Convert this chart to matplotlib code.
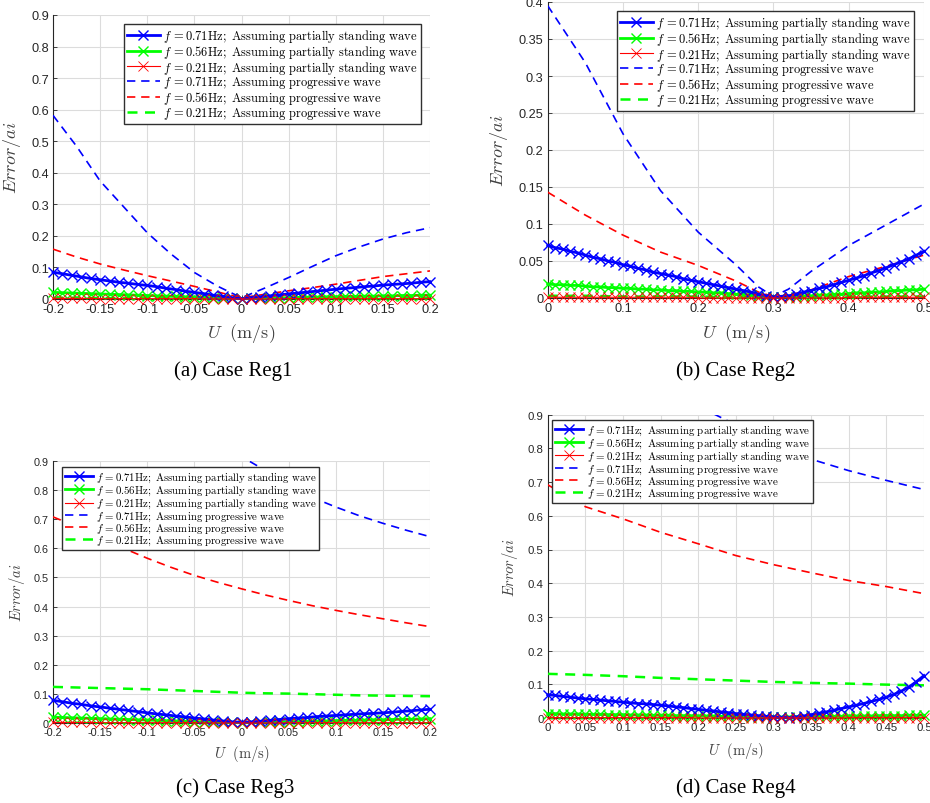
import matplotlib
matplotlib.use("Agg")
import matplotlib.pyplot as plt
import numpy as np

plt.rcParams["mathtext.fontset"] = "cm"
plt.rcParams["font.family"] = ["Liberation Sans", "DejaVu Sans"]

# ---------------- data ----------------
# marker grids (m/s)
u_ac = [round(-0.20 + 0.01 * i, 2) for i in range(41)]
u_bd = [round(0.00 + 0.01 * i, 2) for i in range(51)]
# dashed-curve grids
u_ac_dash = [-0.2, -0.175, -0.15, -0.125, -0.1, -0.075, -0.05, -0.025, 0.0,
             0.025, 0.05, 0.075, 0.1, 0.125, 0.15, 0.175, 0.2]
u_b_dash = [0.0, 0.05, 0.1, 0.15, 0.2, 0.25, 0.28, 0.3, 0.32, 0.35, 0.4, 0.45, 0.5]
u_d_dash = [0.0, 0.05, 0.1, 0.15, 0.2, 0.25, 0.3, 0.35, 0.4, 0.45, 0.5]

# Case Reg1
reg1_std_071 = [0.085, 0.080, 0.075, 0.070, 0.065, 0.061, 0.057, 0.053, 0.050, 0.046,
                0.043, 0.039, 0.034, 0.030, 0.025, 0.021, 0.017, 0.012, 0.008, 0.004,
                0.001, 0.004, 0.007, 0.010, 0.013, 0.016, 0.019, 0.022, 0.025, 0.028,
                0.031, 0.034, 0.036, 0.039, 0.041, 0.044, 0.046, 0.048, 0.050, 0.053,
                0.055]
reg1_std_056 = [0.021, 0.020, 0.019, 0.018, 0.017, 0.016, 0.015, 0.014, 0.013, 0.012,
                0.011, 0.010, 0.009, 0.008, 0.007, 0.006, 0.005, 0.004, 0.003, 0.002,
                0.001, 0.002, 0.002, 0.003, 0.004, 0.004, 0.005, 0.006, 0.006, 0.007,
                0.007, 0.008, 0.008, 0.009, 0.009, 0.010, 0.010, 0.011, 0.011, 0.012,
                0.012]
reg1_std_021 = [0.002, 0.002, 0.002, 0.002, 0.002, 0.001, 0.001, 0.001, 0.001, 0.001,
                0.001, 0.001, 0.001, 0.001, 0.001, 0.001, 0.000, 0.000, 0.000, 0.000,
                0.000, 0.000, 0.000, 0.000, 0.000, 0.001, 0.001, 0.001, 0.001, 0.001,
                0.001, 0.001, 0.001, 0.001, 0.001, 0.001, 0.001, 0.001, 0.001, 0.001,
                0.001]
reg1_prog_071 = [0.582, 0.484, 0.374, 0.292, 0.210, 0.143, 0.084, 0.040, 0.004,
                 0.035, 0.068, 0.103, 0.137, 0.165, 0.190, 0.210, 0.226]
reg1_prog_056 = [0.158, 0.133, 0.111, 0.092, 0.074, 0.057, 0.040, 0.022, 0.004,
                 0.015, 0.026, 0.036, 0.047, 0.059, 0.071, 0.080, 0.089]
reg1_prog_021 = [0.004, 0.004, 0.003, 0.003, 0.003, 0.002, 0.002, 0.001, 0.001,
                 0.001, 0.002, 0.002, 0.002, 0.003, 0.003, 0.003, 0.003]

# Case Reg2
reg2_std_071 = [0.071, 0.068, 0.066, 0.063, 0.061, 0.058, 0.055, 0.053, 0.050, 0.048,
                0.045, 0.043, 0.040, 0.038, 0.035, 0.033, 0.031, 0.029, 0.026, 0.024,
                0.022, 0.020, 0.018, 0.016, 0.014, 0.012, 0.010, 0.008, 0.005, 0.003,
                0.001, 0.002, 0.003, 0.005, 0.008, 0.010, 0.013, 0.015, 0.018, 0.021,
                0.024, 0.027, 0.030, 0.034, 0.037, 0.041, 0.045, 0.049, 0.053, 0.058,
                0.063]
reg2_std_056 = [0.019, 0.018, 0.018, 0.017, 0.017, 0.016, 0.015, 0.015, 0.014, 0.014,
                0.013, 0.013, 0.012, 0.012, 0.011, 0.011, 0.010, 0.010, 0.009, 0.009,
                0.008, 0.008, 0.007, 0.007, 0.006, 0.005, 0.005, 0.004, 0.003, 0.002,
                0.001, 0.001, 0.002, 0.002, 0.003, 0.003, 0.004, 0.004, 0.005, 0.005,
                0.006, 0.007, 0.007, 0.008, 0.008, 0.009, 0.010, 0.010, 0.011, 0.011,
                0.012]
reg2_std_021 = [0.001, 0.001, 0.001, 0.001, 0.001, 0.001, 0.001, 0.001, 0.001, 0.001,
                0.001, 0.001, 0.001, 0.001, 0.001, 0.001, 0.001, 0.001, 0.001, 0.001,
                0.000, 0.000, 0.000, 0.000, 0.000, 0.000, 0.000, 0.000, 0.000, 0.000,
                0.000, 0.000, 0.000, 0.000, 0.000, 0.000, 0.000, 0.000, 0.000, 0.000,
                0.001, 0.001, 0.001, 0.001, 0.001, 0.001, 0.001, 0.001, 0.001, 0.001,
                0.001]
reg2_prog_071 = [0.395, 0.318, 0.222, 0.145, 0.089, 0.045, 0.015, 0.002, 0.012,
                 0.036, 0.071, 0.099, 0.127]
reg2_prog_056 = [0.143, 0.112, 0.085, 0.062, 0.044, 0.023, 0.008, 0.002, 0.004,
                 0.011, 0.029, 0.043, 0.058]
reg2_prog_021 = [0.003, 0.003, 0.002, 0.002, 0.002, 0.001, 0.001, 0.001, 0.001,
                 0.001, 0.002, 0.002, 0.002]

# Case Reg3
reg3_std_071 = [0.078, 0.073, 0.068, 0.064, 0.059, 0.055, 0.051, 0.047, 0.043, 0.039,
                0.035, 0.031, 0.028, 0.024, 0.021, 0.017, 0.014, 0.010, 0.007, 0.004,
                0.003, 0.004, 0.006, 0.009, 0.012, 0.015, 0.017, 0.019, 0.022, 0.024,
                0.026, 0.028, 0.030, 0.032, 0.033, 0.035, 0.037, 0.040, 0.042, 0.045,
                0.047]
reg3_std_056 = [0.020, 0.019, 0.018, 0.017, 0.016, 0.015, 0.014, 0.013, 0.012, 0.011,
                0.010, 0.009, 0.008, 0.007, 0.006, 0.005, 0.004, 0.003, 0.002, 0.002,
                0.001, 0.002, 0.003, 0.003, 0.004, 0.005, 0.005, 0.006, 0.007, 0.007,
                0.008, 0.009, 0.009, 0.010, 0.011, 0.011, 0.012, 0.013, 0.013, 0.014,
                0.015]
reg3_std_021 = [0.002, 0.002, 0.002, 0.002, 0.002, 0.001, 0.001, 0.001, 0.001, 0.001,
                0.001, 0.001, 0.001, 0.001, 0.001, 0.001, 0.000, 0.000, 0.000, 0.000,
                0.000, 0.000, 0.000, 0.000, 0.000, 0.001, 0.001, 0.001, 0.001, 0.001,
                0.001, 0.001, 0.001, 0.001, 0.001, 0.001, 0.001, 0.001, 0.001, 0.001,
                0.001]
reg3_prog_071 = [1.36, 1.28, 1.21, 1.14, 1.08, 1.03, 0.98, 0.94, 0.915,
                 0.868, 0.820, 0.775, 0.742, 0.712, 0.686, 0.662, 0.640]
reg3_prog_056 = [0.708, 0.675, 0.640, 0.600, 0.566, 0.535, 0.507, 0.483, 0.461,
                 0.440, 0.421, 0.403, 0.387, 0.372, 0.358, 0.344, 0.331]
reg3_prog_021 = [0.124, 0.122, 0.120, 0.118, 0.116, 0.113, 0.110, 0.107, 0.104,
                 0.102, 0.101, 0.099, 0.097, 0.095, 0.094, 0.093, 0.092]

# Case Reg4
reg4_std_071 = [0.069, 0.067, 0.064, 0.062, 0.059, 0.057, 0.055, 0.053, 0.051, 0.049,
                0.047, 0.045, 0.043, 0.042, 0.040, 0.038, 0.036, 0.033, 0.031, 0.028,
                0.026, 0.023, 0.021, 0.018, 0.016, 0.013, 0.011, 0.009, 0.007, 0.005,
                0.003, 0.002, 0.001, 0.003, 0.006, 0.010, 0.014, 0.018, 0.023, 0.028,
                0.033, 0.038, 0.043, 0.049, 0.055, 0.062, 0.070, 0.080, 0.092, 0.108,
                0.126]
reg4_std_056 = [0.013, 0.013, 0.012, 0.012, 0.012, 0.011, 0.011, 0.011, 0.010, 0.010,
                0.010, 0.009, 0.009, 0.009, 0.008, 0.008, 0.008, 0.007, 0.007, 0.007,
                0.006, 0.006, 0.006, 0.005, 0.005, 0.005, 0.004, 0.004, 0.004, 0.003,
                0.003, 0.003, 0.003, 0.004, 0.004, 0.004, 0.005, 0.005, 0.005, 0.005,
                0.006, 0.006, 0.006, 0.006, 0.007, 0.007, 0.007, 0.007, 0.008, 0.008,
                0.008]
reg4_std_021 = [0.001, 0.001, 0.001, 0.001, 0.001, 0.001, 0.001, 0.001, 0.001, 0.001,
                0.001, 0.001, 0.001, 0.001, 0.001, 0.001, 0.001, 0.001, 0.001, 0.001,
                0.000, 0.000, 0.000, 0.000, 0.000, 0.000, 0.000, 0.000, 0.000, 0.000,
                0.000, 0.000, 0.000, 0.000, 0.000, 0.000, 0.000, 0.000, 0.000, 0.000,
                0.001, 0.001, 0.001, 0.001, 0.001, 0.001, 0.001, 0.001, 0.001, 0.001,
                0.001]
reg4_prog_071 = [1.22, 1.13, 1.05, 0.98, 0.925, 0.870, 0.815, 0.768, 0.734, 0.705, 0.678]
reg4_prog_056 = [0.692, 0.627, 0.591, 0.551, 0.517, 0.482, 0.455, 0.431, 0.408, 0.390, 0.369]
reg4_prog_021 = [0.131, 0.128, 0.124, 0.119, 0.115, 0.111, 0.107, 0.104, 0.102, 0.099, 0.097]

# tick labels
xt_ac = [-0.2, -0.15, -0.1, -0.05, 0, 0.05, 0.1, 0.15, 0.2]
xt_ac_lbl = ["-0.2", "-0.15", "-0.1", "-0.05", "0", "0.05", "0.1", "0.15", "0.2"]
xt_b = [0, 0.1, 0.2, 0.3, 0.4, 0.5]
xt_b_lbl = ["0", "0.1", "0.2", "0.3", "0.4", "0.5"]
xt_d = [0, 0.05, 0.1, 0.15, 0.2, 0.25, 0.3, 0.35, 0.4, 0.45, 0.5]
xt_d_lbl = ["0", "0.05", "0.1", "0.15", "0.2", "0.25", "0.3", "0.35", "0.4", "0.45", "0.5"]
yt_09 = [0, 0.1, 0.2, 0.3, 0.4, 0.5, 0.6, 0.7, 0.8, 0.9]
yt_09_lbl = ["0", "0.1", "0.2", "0.3", "0.4", "0.5", "0.6", "0.7", "0.8", "0.9"]
yt_04 = [0, 0.05, 0.1, 0.15, 0.2, 0.25, 0.3, 0.35, 0.4]
yt_04_lbl = ["0", "0.05", "0.1", "0.15", "0.2", "0.25", "0.3", "0.35", "0.4"]

legend_labels = [
    r"$f\,=0.71\mathrm{Hz;\ Assuming\ partially\ standing\ wave}$",
    r"$f\,=0.56\mathrm{Hz;\ Assuming\ partially\ standing\ wave}$",
    r"$f\,=0.21\mathrm{Hz;\ Assuming\ partially\ standing\ wave}$",
    r"$f\,=0.71\mathrm{Hz;\ Assuming\ progressive\ wave}$",
    r"$f\,=0.56\mathrm{Hz;\ Assuming\ progressive\ wave}$",
    r"$f\,=0.21\mathrm{Hz;\ Assuming\ progressive\ wave}$",
]
captions = ["(a) Case Reg1", "(b) Case Reg2", "(c) Case Reg3", "(d) Case Reg4"]

BLUE, GREEN, RED = (0, 0, 1), (0, 1, 0), (1, 0, 0)
AXC = "#262626"

W, H = 930, 804
fig = plt.figure(figsize=(W / 100, H / 100), dpi=100)


def px_rect(l, t, r, b):
    return [l / W, 1 - b / H, (r - l) / W, (b - t) / H]


def panel(rect, u, std, u_dash, prog, xlim, ylim, xt, xtl, yt, ytl,
          leg_anchor, leg_loc, leg_fs, lab_fs, tick_fs, ylab_xy, xlab_xy, msize):
    ax = fig.add_axes(rect)
    s71, s56, s21 = std
    p71, p56, p21 = prog
    h = []
    h += ax.plot(u, s71, color=BLUE, lw=2.0, marker="x", ms=msize, mew=1.0, clip_on=False, zorder=5)
    h += ax.plot(u, s56, color=GREEN, lw=2.0, marker="x", ms=msize, mew=1.0, clip_on=False, zorder=4)
    h += ax.plot(u, s21, color=RED, lw=0.8, marker="x", ms=msize, mew=0.6, clip_on=False, zorder=6)
    ln, = ax.plot(u_dash, p71, color=BLUE, lw=1.2, ls="--", dashes=(5, 3.5), zorder=3)
    h.append(ln)
    ln, = ax.plot(u_dash, p56, color=RED, lw=1.2, ls="--", dashes=(5, 3.5), zorder=3)
    h.append(ln)
    ln, = ax.plot(u_dash, p21, color=GREEN, lw=1.8, ls="--", dashes=(4, 3), zorder=3)
    h.append(ln)

    ax.set_xlim(*xlim)
    ax.set_ylim(*ylim)
    ax.set_xticks(xt)
    ax.set_xticklabels(xtl)
    ax.set_yticks(yt)
    ax.set_yticklabels(ytl)
    ax.grid(True, color="#dcdcdc", lw=0.8)
    ax.set_axisbelow(True)
    for s in ("top", "right"):
        ax.spines[s].set_visible(False)
    for s in ("left", "bottom"):
        ax.spines[s].set_color(AXC)
        ax.spines[s].set_linewidth(0.8)
    ax.tick_params(direction="in", length=3, width=0.6, colors=AXC,
                   labelsize=tick_fs, pad=3)
    ax.set_xlabel(r"$U\ \ (\mathrm{m/s})$", fontsize=lab_fs, color="#404040")
    ax.set_ylabel(r"$Error/ai$", fontsize=lab_fs, color="#404040")
    ax.yaxis.set_label_coords(*ylab_xy)
    ax.xaxis.set_label_coords(*xlab_xy)

    leg = ax.legend(h, legend_labels, loc=leg_loc, bbox_to_anchor=leg_anchor,
                    bbox_transform=fig.transFigure, borderaxespad=0, fontsize=leg_fs,
                    numpoints=1, handlelength=2.6, handletextpad=0.3,
                    labelspacing=-0.1, borderpad=0.25, fancybox=False, framealpha=1)
    leg.get_frame().set_edgecolor("#303030")
    leg.get_frame().set_linewidth(1.0)
    return ax


panel(px_rect(53, 16, 430, 300), u_ac, (reg1_std_071, reg1_std_056, reg1_std_021),
      u_ac_dash, (reg1_prog_071, reg1_prog_056, reg1_prog_021),
      (-0.2, 0.2), (0, 0.9), xt_ac, xt_ac_lbl, yt_09, yt_09_lbl,
      (421 / W, 1 - 25 / H), "upper right", 9.0, 13, 9.2, (-0.08, 0.5), (0.5, -0.077), 7)

panel(px_rect(547.7, 3, 924, 299), u_bd, (reg2_std_071, reg2_std_056, reg2_std_021),
      u_b_dash, (reg2_prog_071, reg2_prog_056, reg2_prog_021),
      (0, 0.5), (0, 0.4), xt_b, xt_b_lbl, yt_04, yt_04_lbl,
      (914 / W, 1 - 12 / H), "upper right", 9.0, 13, 9.2, (-0.10, 0.5), (0.5, -0.078), 6.5)

panel(px_rect(53, 462, 430, 724), u_ac, (reg3_std_071, reg3_std_056, reg3_std_021),
      u_ac_dash, (reg3_prog_071, reg3_prog_056, reg3_prog_021),
      (-0.2, 0.2), (0, 0.9), xt_ac, xt_ac_lbl, yt_09, yt_09_lbl,
      (62 / W, 1 - 468 / H), "upper left", 7.8, 10.5, 7.8, (-0.069, 0.5), (0.5, -0.076), 7)

panel(px_rect(547.7, 415.7, 924, 719), u_bd, (reg4_std_071, reg4_std_056, reg4_std_021),
      u_d_dash, (reg4_prog_071, reg4_prog_056, reg4_prog_021),
      (0, 0.5), (0, 0.9), xt_d, xt_d_lbl, yt_09, yt_09_lbl,
      (552 / W, 1 - 421 / H), "upper left", 7.9, 10.5, 8.2, (-0.074, 0.5), (0.5, -0.072), 6.5)

cap_xy = [(233, 371), (736, 371), (235, 788), (736, 788)]
for (cx, cy), txt in zip(cap_xy, captions):
    fig.text(cx / W, 1 - cy / H, txt, ha="center", va="center",
             fontsize=15, family="Liberation Serif", color="black")

fig.savefig("out.png", dpi=100, facecolor="white")
